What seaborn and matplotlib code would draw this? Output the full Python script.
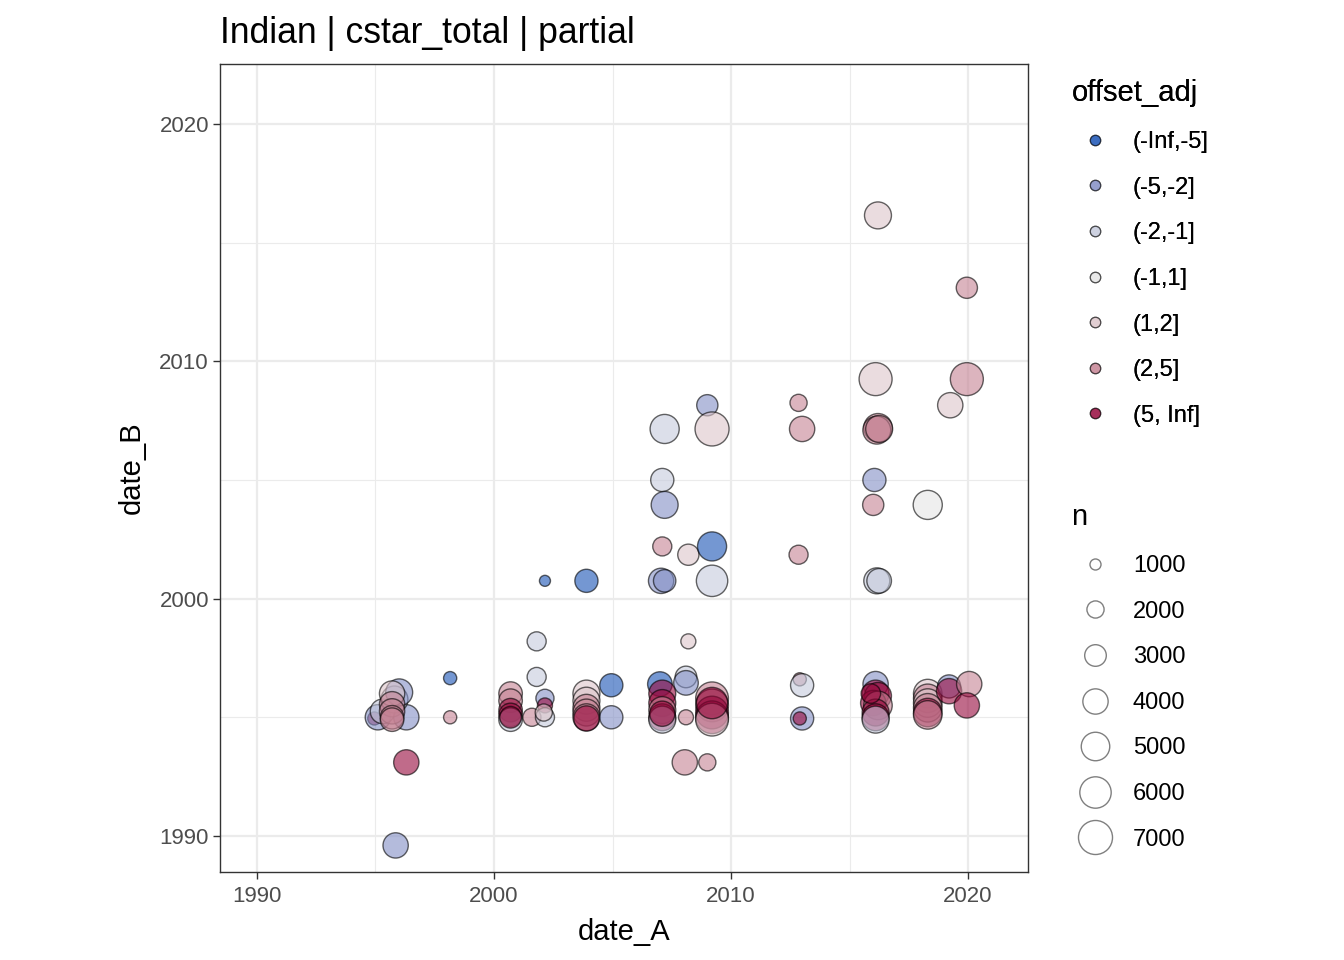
import pandas as pd
import matplotlib.pyplot as plt
import numpy as np
import seaborn as sns
from matplotlib.lines import Line2D
from matplotlib.ticker import MultipleLocator
import matplotlib.colors as mcolors

sns.set_theme(style='white')
plt.rcParams['font.family'] = ['Liberation Sans', 'DejaVu Sans']
plt.rcParams['text.color'] = 'black'

# Categorias de offset_adj e cores (fill, desenhadas com alpha 0.6)
offset_levels = ['(-Inf,-5]', '(-5,-2]', '(-2,-1]', '(-1,1]', '(1,2]', '(2,5]', '(5, Inf]']
offset_colors = ['#1852b4', '#828fc5', '#c5cadc', '#e5e5e5', '#dcc5ca', '#c58294', '#96083c']

# Pontos: date_A, date_B, n, offset_adj
date_A = [
    2016.2, 2019.95, 2016.1, 2019.95, 2019.25, 2012.85, 2013.0, 2016.2, 2016.15, 2016.25,
    2009.0, 2007.2, 2009.2, 2007.1, 2007.2, 2016.05, 2016.0, 2018.3,
    2007.1, 2008.2, 2009.2, 2012.85, 2002.15, 2003.9, 2007.05, 2007.2, 2009.2, 2016.15, 2016.25,
    2001.8, 2008.2, 1998.15, 1998.15, 1996.3, 1995.85, 2008.05, 2009.0,
    1994.95, 1995.1, 1995.3, 1996.3, 1995.8, 1996.0, 1995.7, 1995.7, 1995.7, 1995.7, 1995.7,
    2000.7, 2000.7, 2000.7, 2000.7, 2000.7, 2000.7,
    2001.8, 2002.15, 2002.15, 2001.6, 2002.15, 2002.1,
    2003.9, 2003.9, 2003.9, 2003.9, 2003.9, 2003.9, 2004.95, 2004.95,
    2007.0, 2008.1, 2008.1, 2007.1, 2007.1, 2007.1, 2007.1, 2007.1, 2007.1, 2008.1,
    2009.2, 2009.2, 2009.2, 2009.2, 2009.2, 2009.2,
    2012.9, 2013.0, 2013.0, 2012.9,
    2016.1, 2016.1, 2016.2, 2016.0, 2016.2, 2016.1, 2016.1, 2016.1, 2015.9,
    2018.3, 2018.3, 2018.3, 2018.3, 2018.3, 2018.3,
    2019.2, 2019.2, 2020.05, 2019.95,
]
date_B = [
    2016.15, 2013.1, 2009.25, 2009.25, 2008.15, 2008.25, 2007.15, 2007.2, 2007.1, 2007.15,
    2008.15, 2007.15, 2007.15, 2005.0, 2003.95, 2005.0, 2003.95, 2003.95,
    2002.2, 2001.85, 2002.2, 2001.85, 2000.75, 2000.75, 2000.75, 2000.75, 2000.75, 2000.75, 2000.75,
    1998.2, 1998.2, 1996.65, 1995.0, 1993.1, 1989.6, 1993.1, 1993.1,
    1994.95, 1995.0, 1995.25, 1995.0, 1995.75, 1996.05, 1996.0, 1995.55, 1995.25, 1995.0, 1994.9,
    1996.0, 1995.7, 1995.3, 1995.1, 1994.9, 1995.0,
    1996.7, 1995.8, 1995.5, 1995.0, 1995.0, 1995.2,
    1996.0, 1995.7, 1995.4, 1995.2, 1995.0, 1994.95, 1996.35, 1995.0,
    1996.4, 1996.7, 1996.45, 1996.0, 1995.6, 1995.3, 1995.0, 1994.9, 1995.15, 1995.0,
    1995.8, 1995.5, 1995.2, 1995.0, 1994.9, 1995.6,
    1996.6, 1996.35, 1994.95, 1994.95,
    1996.4, 1996.0, 1995.9, 1995.6, 1995.5, 1995.2, 1995.0, 1994.9, 1996.0,
    1996.0, 1995.8, 1995.6, 1995.4, 1995.2, 1995.1,
    1996.3, 1996.1, 1996.4, 1995.5,
]
n = [
    4500, 2900, 6600, 6600, 4000, 2000, 4000, 5000, 4800, 4500,
    2900, 5200, 7400, 3400, 4500, 3400, 2900, 5200,
    2400, 2900, 5200, 2400, 550, 3400, 4000, 3200, 6000, 4200, 3800,
    2400, 1600, 1300, 1300, 4000, 4000, 4000, 2000,
    1300, 4000, 3800, 4000, 4500, 4500, 4000, 4000, 4000, 3500, 3500,
    3500, 3500, 3500, 3500, 3500, 3000,
    2400, 2200, 1600, 2200, 2400, 2000,
    4500, 4500, 4500, 4500, 4500, 4000, 3400, 3400,
    3800, 3000, 3800, 4500, 4500, 4500, 4500, 4500, 4000, 1600,
    6500, 6500, 6500, 6500, 6500, 6000,
    1300, 3400, 3400, 1300,
    4000, 4500, 4500, 4000, 5000, 4500, 4500, 4500, 2500,
    5000, 5000, 5000, 5000, 5000, 5000,
    3400, 4000, 4000, 4000,
]
offset_adj = [
    '(1,2]', '(2,5]', '(1,2]', '(2,5]', '(1,2]', '(2,5]', '(2,5]', '(2,5]', '(2,5]', '(2,5]',
    '(-5,-2]', '(-2,-1]', '(1,2]', '(-2,-1]', '(-5,-2]', '(-5,-2]', '(2,5]', '(-1,1]',
    '(2,5]', '(1,2]', '(-Inf,-5]', '(2,5]', '(-Inf,-5]', '(-Inf,-5]', '(-5,-2]', '(-5,-2]', '(-2,-1]', '(-2,-1]', '(-2,-1]',
    '(-2,-1]', '(1,2]', '(-Inf,-5]', '(2,5]', '(5, Inf]', '(-5,-2]', '(2,5]', '(2,5]',
    '(5, Inf]', '(-5,-2]', '(-2,-1]', '(-5,-2]', '(-2,-1]', '(-5,-2]', '(1,2]', '(2,5]', '(2,5]', '(2,5]', '(2,5]',
    '(2,5]', '(2,5]', '(5, Inf]', '(5, Inf]', '(-2,-1]', '(5, Inf]',
    '(-2,-1]', '(-5,-2]', '(5, Inf]', '(2,5]', '(-2,-1]', '(1,2]',
    '(1,2]', '(1,2]', '(2,5]', '(2,5]', '(2,5]', '(5, Inf]', '(-Inf,-5]', '(-5,-2]',
    '(-Inf,-5]', '(-2,-1]', '(-5,-2]', '(5, Inf]', '(5, Inf]', '(2,5]', '(5, Inf]', '(-2,-1]', '(5, Inf]', '(2,5]',
    '(2,5]', '(2,5]', '(5, Inf]', '(5, Inf]', '(1,2]', '(5, Inf]',
    '(2,5]', '(-2,-1]', '(-5,-2]', '(5, Inf]',
    '(-5,-2]', '(5, Inf]', '(5, Inf]', '(5, Inf]', '(2,5]', '(5, Inf]', '(5, Inf]', '(-2,-1]', '(5, Inf]',
    '(1,2]', '(2,5]', '(1,2]', '(2,5]', '(5, Inf]', '(2,5]',
    '(-5,-2]', '(5, Inf]', '(2,5]', '(5, Inf]',
]

n_breaks = [1000, 2000, 3000, 4000, 5000, 6000, 7000]

df = pd.DataFrame({'date_A': date_A, 'date_B': date_B, 'n': n, 'offset_adj': offset_adj})

# tamanho (area em pt^2) linear em n, igual ao que o seaborn faz
size_range = (63, 600)
size_norm = (1000, 7000)

def area(v):
    return size_range[0] + (v - size_norm[0]) / (size_norm[1] - size_norm[0]) * (size_range[1] - size_range[0])

fig = plt.figure(figsize=(13.44, 9.6), dpi=100)
ax = fig.add_axes([220 / 1344, 1 - 872 / 960, 808 / 1344, 808 / 960])

sns.scatterplot(data=df, x='date_A', y='date_B', hue='offset_adj', hue_order=offset_levels,
                palette=dict(zip(offset_levels, offset_colors)), size='n',
                sizes=size_range, size_norm=size_norm, alpha=0.6,
                edgecolor='black', linewidth=1.0, legend=False, ax=ax, zorder=3)

ax.set_xlim(1988.44, 2022.53)
ax.set_ylim(1988.48, 2022.53)
ax.xaxis.set_major_locator(MultipleLocator(10))
ax.yaxis.set_major_locator(MultipleLocator(10))
ax.xaxis.set_minor_locator(MultipleLocator(5))
ax.yaxis.set_minor_locator(MultipleLocator(5))
ax.grid(True, which='major', color='#ebebeb', linewidth=1.6, zorder=0)
ax.grid(True, which='minor', color='#ebebeb', linewidth=0.8, zorder=0)
ax.set_axisbelow(True)
for s in ax.spines.values():
    s.set_color('#333333')
    s.set_linewidth(1.0)
ax.tick_params(which='major', direction='out', length=5, width=1, color='#333333',
               labelsize=16, labelcolor='#4d4d4d', bottom=True, left=True, pad=3)
ax.tick_params(axis='x', which='major', pad=5)
ax.tick_params(which='minor', length=0)

ax.set_xlabel('date_A', fontsize=21, color='black', labelpad=8)
ax.set_ylabel('date_B', fontsize=21, color='black', labelpad=10)
ax.set_title('Indian | cstar_total | partial', fontsize=25.6, loc='left', pad=15, color='black')

# legendas no estilo ggplot
def rgba(c, a):
    r, g, b = mcolors.to_rgb(c)
    return (r, g, b, a)

h_off = [Line2D([], [], marker='o', linestyle='', markersize=7.5,
                markerfacecolor=rgba(c, 0.6), markeredgecolor=rgba('black', 0.5),
                markeredgewidth=0.9) for c in offset_colors]
leg1 = fig.legend(h_off, offset_levels, title='offset_adj', loc='upper left',
                  bbox_to_anchor=(1062 / 1344, 1 - 70 / 960), frameon=False, fontsize=17,
                  title_fontsize=21, labelspacing=1.0, handletextpad=0.6, alignment='left',
                  borderaxespad=0)
fig.add_artist(leg1)

h_n = [Line2D([], [], marker='o', linestyle='', markersize=np.sqrt(area(v)),
              markerfacecolor='none', markeredgecolor=rgba('black', 0.5),
              markeredgewidth=1.0) for v in n_breaks]
leg2 = fig.legend(h_n, [str(v) for v in n_breaks], title='n', loc='upper left',
                  bbox_to_anchor=(1062 / 1344, 1 - 494 / 960), frameon=False, fontsize=17,
                  title_fontsize=21, labelspacing=1.0, handletextpad=0.6, alignment='left',
                  borderaxespad=0)
for lg in (leg1, leg2):
    for t in lg.get_texts():
        t.set_color('black')
    lg.get_title().set_color('black')

fig.savefig('out.png', dpi=100)
